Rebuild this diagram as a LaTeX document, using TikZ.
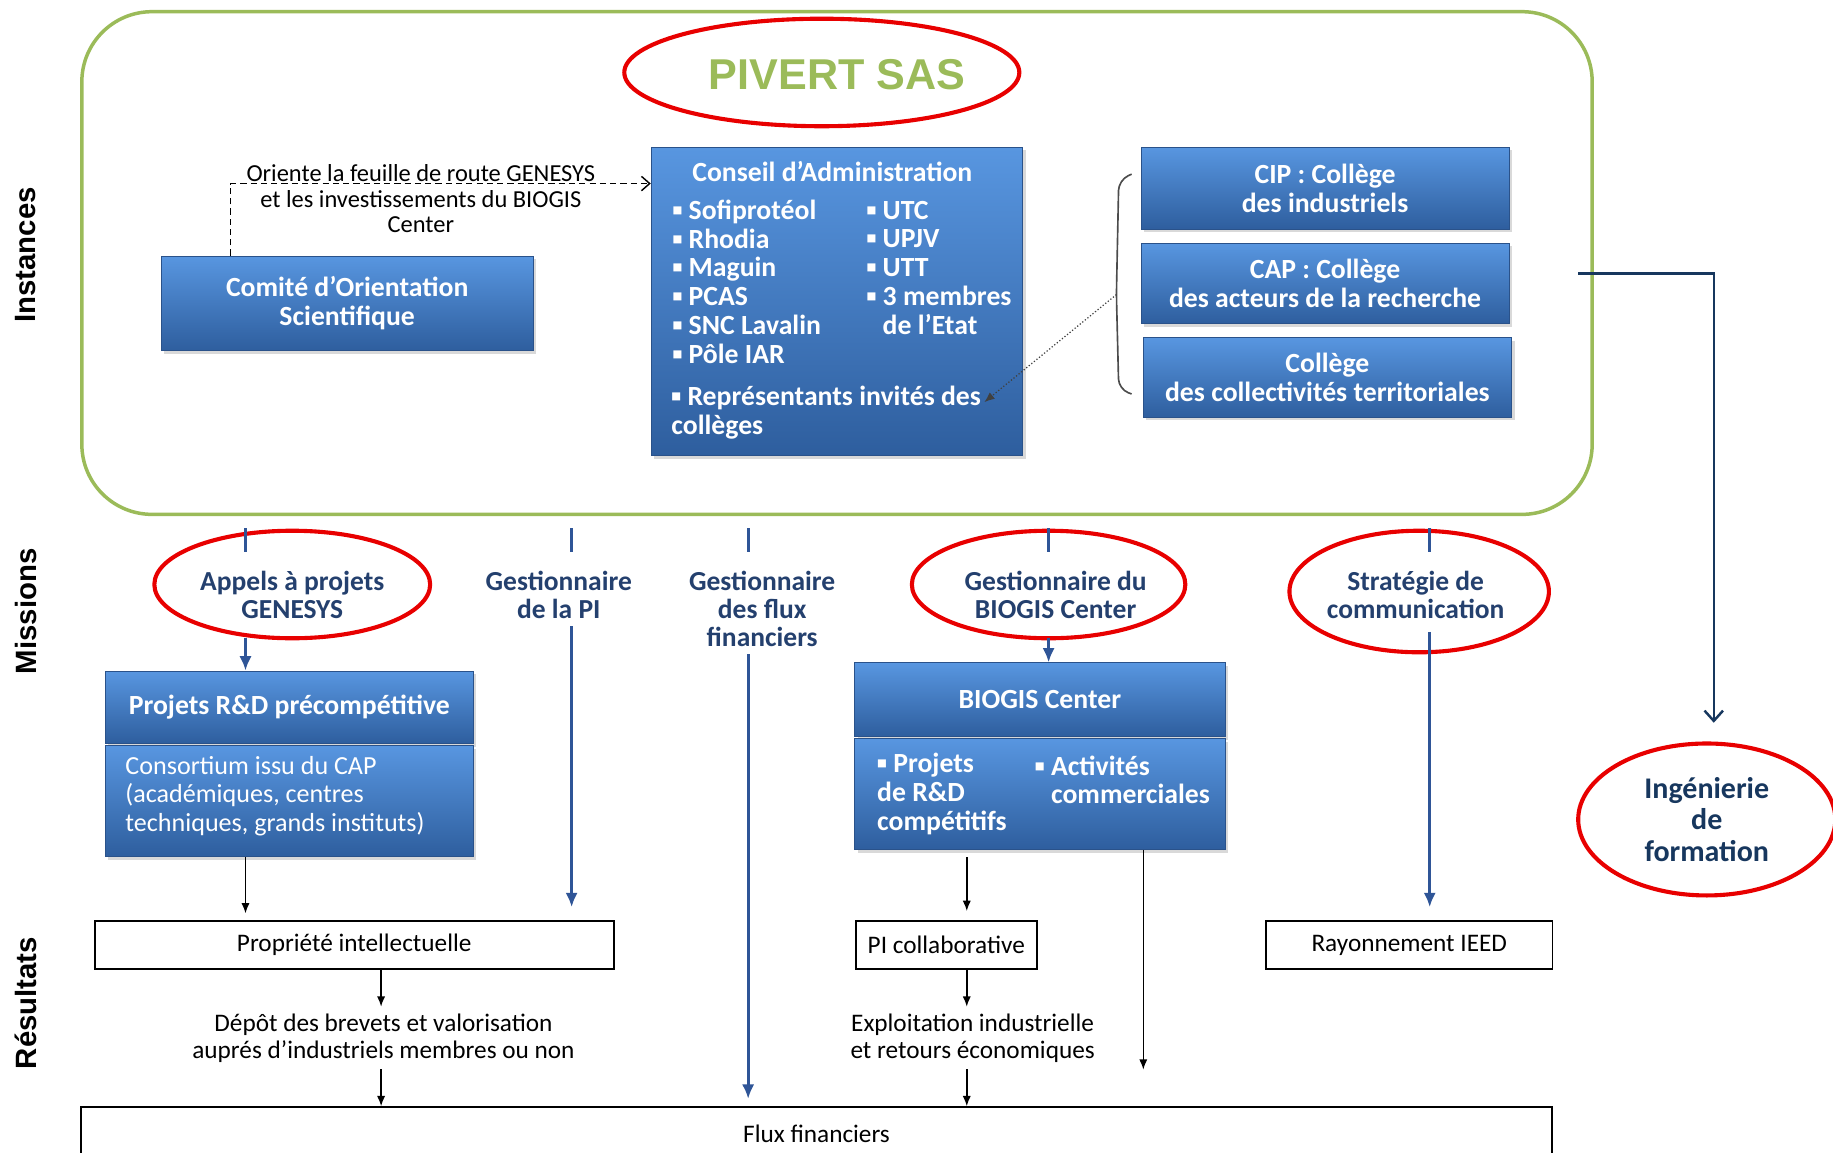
\documentclass[tikz,border=0pt]{standalone}
\usepackage{fontspec}
\setmainfont{Carlito}
\newfontfamily\arialfont{Liberation Sans}
\usetikzlibrary{arrows.meta, positioning, shapes.geometric, shadows}

\definecolor{framegreen}{RGB}{155,187,89}
\definecolor{ringred}{RGB}{232,0,0}
\definecolor{boxtop}{RGB}{88,150,224}
\definecolor{boxbot}{RGB}{46,94,158}
\definecolor{boxedge}{RGB}{42,82,138}
\definecolor{misblue}{RGB}{36,64,110}
\definecolor{arrblue}{RGB}{47,85,151}
\definecolor{navy}{RGB}{23,55,94}

\newcommand{\txtfont}{\fontsize{12.3}{13}\selectfont}
\newcommand{\orfont}{\fontsize{11.9}{12.5}\selectfont}
\newcommand{\boxfont}{\fontsize{13.5}{14}\selectfont\bfseries}
\newcommand{\misfont}{\fontsize{13.4}{13.6}\selectfont\bfseries}
\newcommand{\sidefont}{\arialfont\fontsize{14.3}{15}\selectfont\bfseries}
\newcommand{\pivertfont}{\arialfont\fontsize{21}{22}\selectfont\bfseries}
\newcommand{\ingfont}{\fontsize{14.6}{15.5}\selectfont\bfseries}

\tikzset{
  bluebox/.style={rectangle, draw=boxedge, top color=boxtop, bottom color=boxbot,
    text=white, font=\boxfont, align=center, inner sep=0pt,
    drop shadow={shadow xshift=1.5pt, shadow yshift=-1.5pt, opacity=0.3}},
  listtxt/.style={font=\boxfont, text=white, align=left, inner sep=0pt},
  whitebox/.style={rectangle, draw=black, line width=0.8pt, fill=white, font=\txtfont, inner sep=0pt},
  redring/.style={ellipse, draw=ringred, line width=2pt, inner sep=0pt},
  mission/.style={font=\misfont, text=misblue, align=center},
  result/.style={font=\txtfont, align=center},
  bluetick/.style={draw=arrblue, line width=1.6pt},
  bluearr/.style={draw=arrblue, line width=1.6pt, -{Latex[length=7pt,width=6pt]}},
  blackarr/.style={draw=black, line width=0.7pt, -{Latex[length=5pt,width=4pt]}},
  sidelabel/.style={font=\sidefont, rotate=90}
}

\begin{document}
\begin{tikzpicture}[x=0.02cm, y=-0.02cm]
  \useasboundingbox (0,0) rectangle (1568,986);
  \clip (0,0) rectangle (1568,986);

  % Side labels
  \node[sidelabel] (instances) at (22,218) {Instances};
  \node[sidelabel] (missions) at (22,523) {Missions};
  \node[sidelabel] (resultats) at (22,858) {Résultats};

  % PIVERT SAS frame
  \draw[framegreen, line width=1.7pt, rounded corners=1.2cm] (70,10) rectangle (1362,440);
  \node[redring, minimum width=6.76cm, minimum height=1.84cm] (pivertring) at (703,62) {};
  \node[font=\pivertfont, text=framegreen] (pivert) at (716,64) {PIVERT SAS};

  % Comite
  \node[bluebox, minimum width=6.36cm, minimum height=1.62cm] (comite) at (297,259.5)
    {Comité d’Orientation\\Scientifique};

  % Conseil d'Administration
  \node[bluebox, minimum width=6.36cm, minimum height=5.28cm] (conseil) at (716,258) {};
  \node[font=\boxfont, text=white] (catitle) at (712,147) {Conseil d’Administration};
  \node[listtxt, anchor=west] (calist) at (575,241)
    {▪ Sofiprotéol\\▪ Rhodia\\▪ Maguin\\▪ PCAS\\▪ SNC Lavalin\\▪ Pôle IAR};
  \node[listtxt, anchor=west] (calist2) at (741,229)
    {▪ UTC\\▪ UPJV\\▪ UTT\\▪ 3 membres\\\hphantom{▪~}de l’Etat};
  \node[listtxt, anchor=west] (carep) at (574,353) {▪ Représentants invités des\\collèges};

  % Oriente la feuille de route
  \coordinate (orient) at (197,157);
  \draw[densely dashed, line width=0.7pt, -{Straight Barb[length=4pt,width=7pt]}]
    (comite.north -| orient) -- (orient) -- (conseil.west |- orient);
  \node[font=\orfont, align=center] (orienttxt) at (360,170)
    {Oriente la feuille de route GENESYS\\et les investissements du BIOGIS\\Center};

  % Colleges
  \node[bluebox, minimum width=6.3cm, minimum height=1.4cm] (cip) at (1133.5,161)
    {CIP : Collège\\des industriels};
  \node[bluebox, minimum width=6.3cm, minimum height=1.38cm] (cap) at (1133.5,242.5)
    {CAP : Collège\\des acteurs de la recherche};
  \node[bluebox, minimum width=6.3cm, minimum height=1.36cm] (coll) at (1135.5,323)
    {Collège\\des collectivités territoriales};
  \coordinate (bracemid) at (955,252);
  \coordinate (repend) at (842,344);
  \draw[black!70, line width=0.8pt, rounded corners=5pt]
    (968,149) -- (957,154) -- (bracemid) -- (957,333) -- (968,337);
  \draw[black!75, densely dotted, line width=0.6pt, -{Latex[length=5pt,width=4pt]}]
    (bracemid) -- (repend);

  % Ingenierie de formation
  \node[redring, minimum width=4.4cm, minimum height=2.6cm, font=\ingfont, text=navy, align=center]
    (inge) at (1460,701) {Ingénierie\\de\\formation};
  \coordinate (navystart) at (1350,234);
  \draw[navy, line width=1.2pt, shorten >=0.32cm, -{Straight Barb[length=5pt,width=9pt]}]
    (navystart) -| ([xshift=0.12cm]inge.north);

  % Missions
  \node[mission] (m1) at (250,509) {Appels à projets\\GENESYS};
  \node[mission] (m2) at (478,509) {Gestionnaire\\de la PI};
  \node[mission] (m3) at (652,521) {Gestionnaire\\des flux\\financiers};
  \node[mission] (m4) at (903,509) {Gestionnaire du\\BIOGIS Center};
  \node[mission] (m5) at (1211,509) {Stratégie de\\communication};
  \node[redring, minimum width=4.72cm, minimum height=1.84cm] (e1) at (250,500) {};
  \node[redring, minimum width=4.68cm, minimum height=1.84cm] (e4) at (897,500) {};
  \node[redring, minimum width=4.44cm, minimum height=2.08cm] (e5) at (1214,506) {};
  \coordinate (t1) at (210,452);
  \coordinate (t2) at (489,452);
  \coordinate (t3) at (640,452);
  \coordinate (t4) at (897,452);
  \coordinate (t5) at (1223,452);
  \foreach \t in {t1,t2,t3,t4,t5}
    \draw[bluetick] (\t) -- ++(0,20);

  % Projets R&D
  \node[bluebox, minimum width=6.3cm, minimum height=1.24cm] (projhead) at (247.5,605)
    {Projets R\&D précompétitive};
  \node[bluebox, minimum width=6.3cm, minimum height=1.9cm] (projbody) at (247.5,685.5) {};
  \node[listtxt, font=\fontsize{12.7}{14}\selectfont, anchor=west] (projtxt) at (107,681)
    {Consortium issu du CAP\\(académiques, centres\\techniques, grands instituts)};

  % BIOGIS Center
  \node[bluebox, minimum width=6.34cm, minimum height=1.26cm] (biohead) at (889.5,598.5)
    {BIOGIS Center};
  \node[bluebox, minimum width=6.34cm, minimum height=1.9cm] (biobody) at (889.5,679.5) {};
  \node[listtxt, anchor=west] (biolist) at (750,679) {▪ Projets\\de R\&D\\compétitifs};
  \node[listtxt, anchor=west] (biolist2) at (885,667) {▪ Activités\\\hphantom{▪~}commerciales};

  % Mission arrows
  \draw[bluearr] ([yshift=-0.2cm]t1 |- m1.south) -- (t1 |- projhead.north);
  \draw[bluearr, shorten >=0.24cm] (t2 |- m2.south) -- (t2 |- 0,788);
  \draw[bluearr, shorten >=0.14cm] (t3 |- m3.south) -- (t3 |- 0,947);
  \draw[bluearr] ([yshift=-0.2cm]t4 |- m4.south) -- (t4 |- biohead.north);
  \draw[bluearr, shorten >=0.24cm] ([yshift=-0.1cm]t5 |- m5.south) -- (t5 |- 0,788);

  % Resultats
  \node[whitebox, minimum width=8.88cm, minimum height=0.82cm] (pi) at (303,808.5)
    {Propriété intellectuelle};
  \node[whitebox, minimum width=3.1cm, minimum height=0.82cm] (picoll) at (809.5,808.5)
    {PI collaborative};
  \node[whitebox, minimum width=4.9cm, minimum height=0.82cm] (ray) at (1205.5,808.5)
    {Rayonnement IEED};
  \node[whitebox, minimum width=25.18cm, minimum height=0.92cm] (flux) at (698.5,970)
    {Flux financiers};
  \node[result] (depot) at (328,888)
    {Dépôt des brevets et valorisation\\auprés d’industriels membres ou non};
  \node[result] (exploit) at (832,888)
    {Exploitation industrielle\\et retours économiques};

  \draw[blackarr, shorten >=0.12cm] (projbody.south -| t1) -- (pi.north -| t1);
  \draw[blackarr] (pi.south -| depot) ++(-2,0) -- (depot.north -| 326,0);
  \draw[blackarr] (depot.south -| 326,0) -- (flux.north -| 326,0);
  \draw[blackarr, shorten >=0.16cm, shorten <=0.12cm] (biobody.south -| 827,0) -- (picoll.north -| 827,0);
  \draw[blackarr] (picoll.south -| 827,0) -- (exploit.north -| 827,0);
  \draw[blackarr] (exploit.south -| 827,0) -- (flux.north -| 827,0);
  \coordinate (bioend) at (978,915);
  \draw[blackarr] (biobody.south -| bioend) -- (bioend);
\end{tikzpicture}
\end{document}
